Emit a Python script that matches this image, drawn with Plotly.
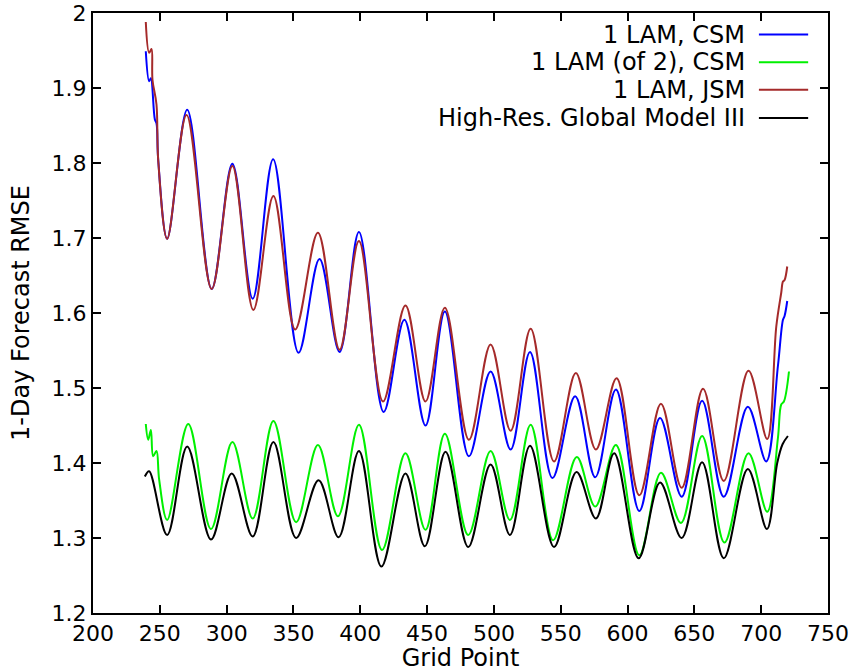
import plotly.graph_objects as go

# --- data (extrema + ragged ends), smoothed by spline ---
lam_csm_x = [239.5, 242, 243.3, 246.3, 247.5, 248.8, 255.5, 270.5, 288.8, 304.3, 319.5, 334.8,
             353.8, 369.5, 384.5, 399, 417.5, 433, 448.8, 463.3, 481.3, 497.5, 512.5, 527,
             543.8, 560.8, 575.8, 591.3, 608.8, 624.3, 640.5, 655.8, 672, 690, 703.8,
             712.5, 716.3, 717.5, 719.5]
lam_csm_y = [1.949, 1.909, 1.913, 1.858, 1.853, 1.804, 1.699, 1.871, 1.632, 1.799, 1.619, 1.805,
             1.547, 1.672, 1.548, 1.708, 1.468, 1.591, 1.450, 1.602, 1.409, 1.522, 1.418, 1.548,
             1.380, 1.489, 1.381, 1.498, 1.336, 1.460, 1.355, 1.483, 1.355, 1.475, 1.402,
             1.529, 1.591, 1.596, 1.616]

lam2_csm_x = [239.5, 241.3, 243.3, 245, 247.5, 249.5, 255.5, 271.3, 288.3, 304.3, 319.5, 335,
              352, 368.3, 383.3, 399, 416.3, 433.8, 448.8, 463.3, 480.8, 497.5, 512, 527.5,
              544.3, 562, 575.8, 591.3, 608.8, 625, 640, 655.8, 672.5, 690.5, 704.5,
              712.5, 715, 717, 720.8]
lam2_csm_y = [1.452, 1.431, 1.444, 1.409, 1.416, 1.378, 1.324, 1.452, 1.312, 1.428, 1.326, 1.456,
              1.321, 1.424, 1.329, 1.451, 1.284, 1.413, 1.311, 1.439, 1.304, 1.416, 1.324, 1.451,
              1.297, 1.408, 1.342, 1.424, 1.277, 1.387, 1.320, 1.436, 1.294, 1.413, 1.335,
              1.433, 1.478, 1.482, 1.522]

lam_jsm_x = [239.5, 242, 243.8, 244.5, 247.5, 248.8, 255.5, 270, 288.8, 304.3, 320, 335,
             351.3, 368.3, 384.5, 399, 417, 433.8, 448.8, 463.3, 481.3, 497.5, 512.5, 527.5,
             545, 561.3, 576.3, 591.8, 608.8, 625, 640.5, 656.5, 672, 690.5, 704.5,
             711.3, 715, 716.3, 717.5, 719.5]
lam_jsm_y = [1.988, 1.947, 1.952, 1.911, 1.878, 1.804, 1.699, 1.864, 1.632, 1.796, 1.604, 1.756,
             1.578, 1.707, 1.551, 1.696, 1.482, 1.610, 1.482, 1.607, 1.431, 1.558, 1.443, 1.579,
             1.402, 1.520, 1.418, 1.513, 1.357, 1.479, 1.367, 1.499, 1.376, 1.523, 1.432,
             1.582, 1.627, 1.642, 1.644, 1.662]

global_x = [238.8, 242, 255.5, 270.5, 288.3, 303.8, 319.5, 335, 352, 368.8, 383.8, 399,
            415.8, 433.8, 448.3, 463.8, 480.8, 497.5, 512, 527, 545, 561.8, 576.3, 590,
            608.3, 624.3, 640.5, 655.8, 672, 690, 704.3, 712, 716, 720]
global_y = [1.382, 1.389, 1.304, 1.422, 1.298, 1.386, 1.302, 1.428, 1.300, 1.377, 1.301, 1.416,
            1.262, 1.386, 1.289, 1.415, 1.288, 1.398, 1.304, 1.423, 1.288, 1.388, 1.326, 1.413,
            1.273, 1.374, 1.300, 1.401, 1.273, 1.392, 1.312, 1.400, 1.425, 1.436]

series_names = ["1 LAM, CSM", "1 LAM (of 2), CSM", "1 LAM, JSM", "High-Res. Global Model III"]
series_colors = ["#0000ff", "#00f000", "#a52a2a", "#000000"]
series_x = [lam_csm_x, lam2_csm_x, lam_jsm_x, global_x]
series_y = [lam_csm_y, lam2_csm_y, lam_jsm_y, global_y]

x_ticks = list(range(200, 751, 50))
y_ticks = [1.2, 1.3, 1.4, 1.5, 1.6, 1.7, 1.8, 1.9, 2.0]
y_tick_text = ["1.2", "1.3", "1.4", "1.5", "1.6", "1.7", "1.8", "1.9", "2"]

FONT = "DejaVu Sans"

fig = go.Figure()
for name, color, xs, ys in zip(series_names, series_colors, series_x, series_y):
    fig.add_trace(go.Scatter(
        x=xs, y=ys, name=name, mode="lines",
        line=dict(color=color, width=2, shape="spline", smoothing=1.0),
        showlegend=False,
    ))

# gnuplot-style key: right-aligned text with the line sample on its right
key_y = [0.964, 0.918, 0.872, 0.825]
for name, color, ky in zip(series_names, series_colors, key_y):
    fig.add_annotation(x=0.890, y=ky, xref="paper", yref="paper", text=name,
                       showarrow=False, xanchor="right", yanchor="middle",
                       font=dict(family=FONT, size=24, color="black"))
    fig.add_shape(type="line", xref="paper", yref="paper",
                  x0=0.906, x1=0.973, y0=ky, y1=ky,
                  line=dict(color=color, width=2))

axis_common = dict(
    showline=True, linecolor="black", linewidth=2, mirror="allticks",
    ticks="inside", ticklen=8, tickwidth=1.5, tickcolor="black",
    showgrid=False, zeroline=False, automargin=False,
    tickfont=dict(family=FONT, size=22, color="black"),
)

fig.update_xaxes(range=[200, 750], tickvals=x_ticks,
                 title=dict(text="Grid Point", font=dict(family=FONT, size=24)),
                 **axis_common)
fig.update_yaxes(range=[1.2, 2.0], tickvals=y_ticks, ticktext=y_tick_text,
                 title=dict(text="1-Day Forecast RMSE", font=dict(family=FONT, size=24)),
                 **axis_common)

fig.update_layout(
    width=853, height=672,
    margin=dict(l=93, r=25, t=13, b=59),
    plot_bgcolor="white", paper_bgcolor="white",
    font=dict(family=FONT, color="black"),
)

# drop the browser's default body margin so the figure sits at the page corner
fig.write_html("out.html", config={"displayModeBar": False},
               post_script="document.body.style.margin='0';")
